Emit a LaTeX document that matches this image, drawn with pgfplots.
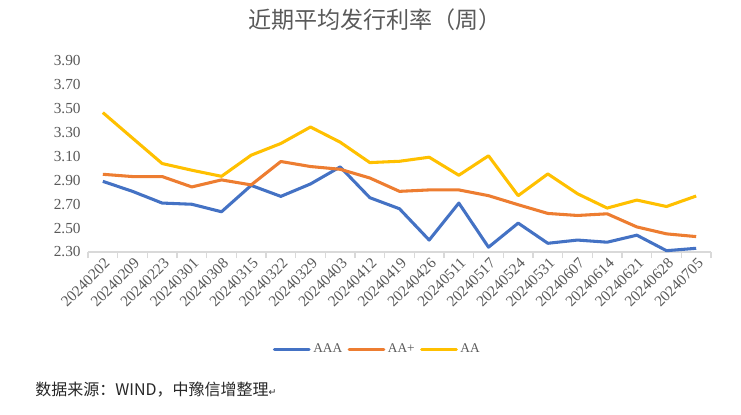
\documentclass[border=0pt]{standalone}
\usepackage{pgfplots}
\pgfplotsset{compat=1.18}
\usepackage{fontspec}
\setmainfont{Liberation Serif}
\newfontfamily\cjk{Noto Sans CJK SC}
\newfontfamily\sym{DejaVu Sans}
\definecolor{cAAA}{HTML}{4472C4}
\definecolor{cAAp}{HTML}{ED7D31}
\definecolor{cAA}{HTML}{FFC000}
\definecolor{txtgray}{HTML}{595959}
\definecolor{axgray}{HTML}{D9D9D9}
\begin{document}
\begin{tikzpicture}
\path[use as bounding box] (0,0) rectangle (555.75pt,310.5pt);
\node[anchor=center, text=txtgray, font=\cjk\fontsize{17.3}{20}\selectfont] at (281.25pt,295.5pt) {近期平均发行利率（周）};
\node[anchor=west, text=black!85, font=\cjk\fontsize{12}{15}\selectfont, inner sep=0pt] at (26.25pt,18pt) {数据来源：WIND，中豫信增整理{\sym\fontsize{7}{8}\selectfont ↵}};
\begin{axis}[
  at={(66pt,121.5pt)}, anchor=south west,
  scale only axis, width=467.25pt, height=143.25pt,
  xmin=-0.5, xmax=20.5, ymin=2.30, ymax=3.90,
  axis x line*=bottom, axis y line*=left,
  x axis line style={draw=axgray, line width=0.8pt},
  y axis line style={draw=none},
  xtick={0,...,20},
  xticklabels={20240202,20240209,20240223,20240301,20240308,20240315,20240322,20240329,20240403,20240412,20240419,20240426,20240511,20240517,20240524,20240531,20240607,20240614,20240621,20240628,20240705},
  minor xtick={-0.5,0.5,...,20.5},
  tick align=outside,
  major tick length=0pt,
  minor tick length=4.5pt,
  minor x tick style={draw=axgray, line width=0.8pt},
  major tick style={draw=none},
  ytick={2.3,2.5,...,3.95},
  yticklabel style={/pgf/number format/.cd, fixed, fixed zerofill, precision=2, /tikz/.cd, text=txtgray, font=\fontsize{11.5}{12}\selectfont, xshift=-2pt},
  xticklabel style={rotate=45, anchor=east, text=txtgray, font=\fontsize{11.5}{12}\selectfont, yshift=-7pt, xshift=1pt},
  /pgf/number format/assume math mode=true,
  clip=false,
  legend columns=3,
  legend style={at={(0.465,-0.51)}, anchor=center, draw=none, fill=none, font=\fontsize{10}{11}\selectfont, text=txtgray, /tikz/every even column/.append style={column sep=2pt}},
  legend image code/.code={\draw[#1, line cap=round] (0pt,0pt) -- (26pt,0pt);},
  every axis plot/.append style={line width=2.3pt, line join=round, mark=none},
]
\addplot[color=cAAA] coordinates {(0,2.892)(1,2.808)(2,2.71)(3,2.70)(4,2.637)(5,2.858)(6,2.766)(7,2.87)(8,3.013)(9,2.755)(10,2.662)(11,2.40)(12,2.71)(13,2.34)(14,2.542)(15,2.373)(16,2.40)(17,2.382)(18,2.441)(19,2.311)(20,2.331)};
\addlegendentry{AAA}
\addplot[color=cAAp] coordinates {(0,2.951)(1,2.932)(2,2.932)(3,2.845)(4,2.904)(5,2.862)(6,3.058)(7,3.016)(8,2.993)(9,2.92)(10,2.808)(11,2.82)(12,2.82)(13,2.772)(14,2.696)(15,2.623)(16,2.606)(17,2.62)(18,2.51)(19,2.452)(20,2.429)};
\addlegendentry{AA+}
\addplot[color=cAA] coordinates {(0,3.468)(1,3.254)(2,3.041)(3,2.985)(4,2.934)(5,3.111)(6,3.209)(7,3.347)(8,3.22)(9,3.049)(10,3.06)(11,3.094)(12,2.943)(13,3.106)(14,2.772)(15,2.954)(16,2.788)(17,2.668)(18,2.735)(19,2.681)(20,2.769)};
\addlegendentry{AA}
\end{axis}
\end{tikzpicture}
\end{document}
